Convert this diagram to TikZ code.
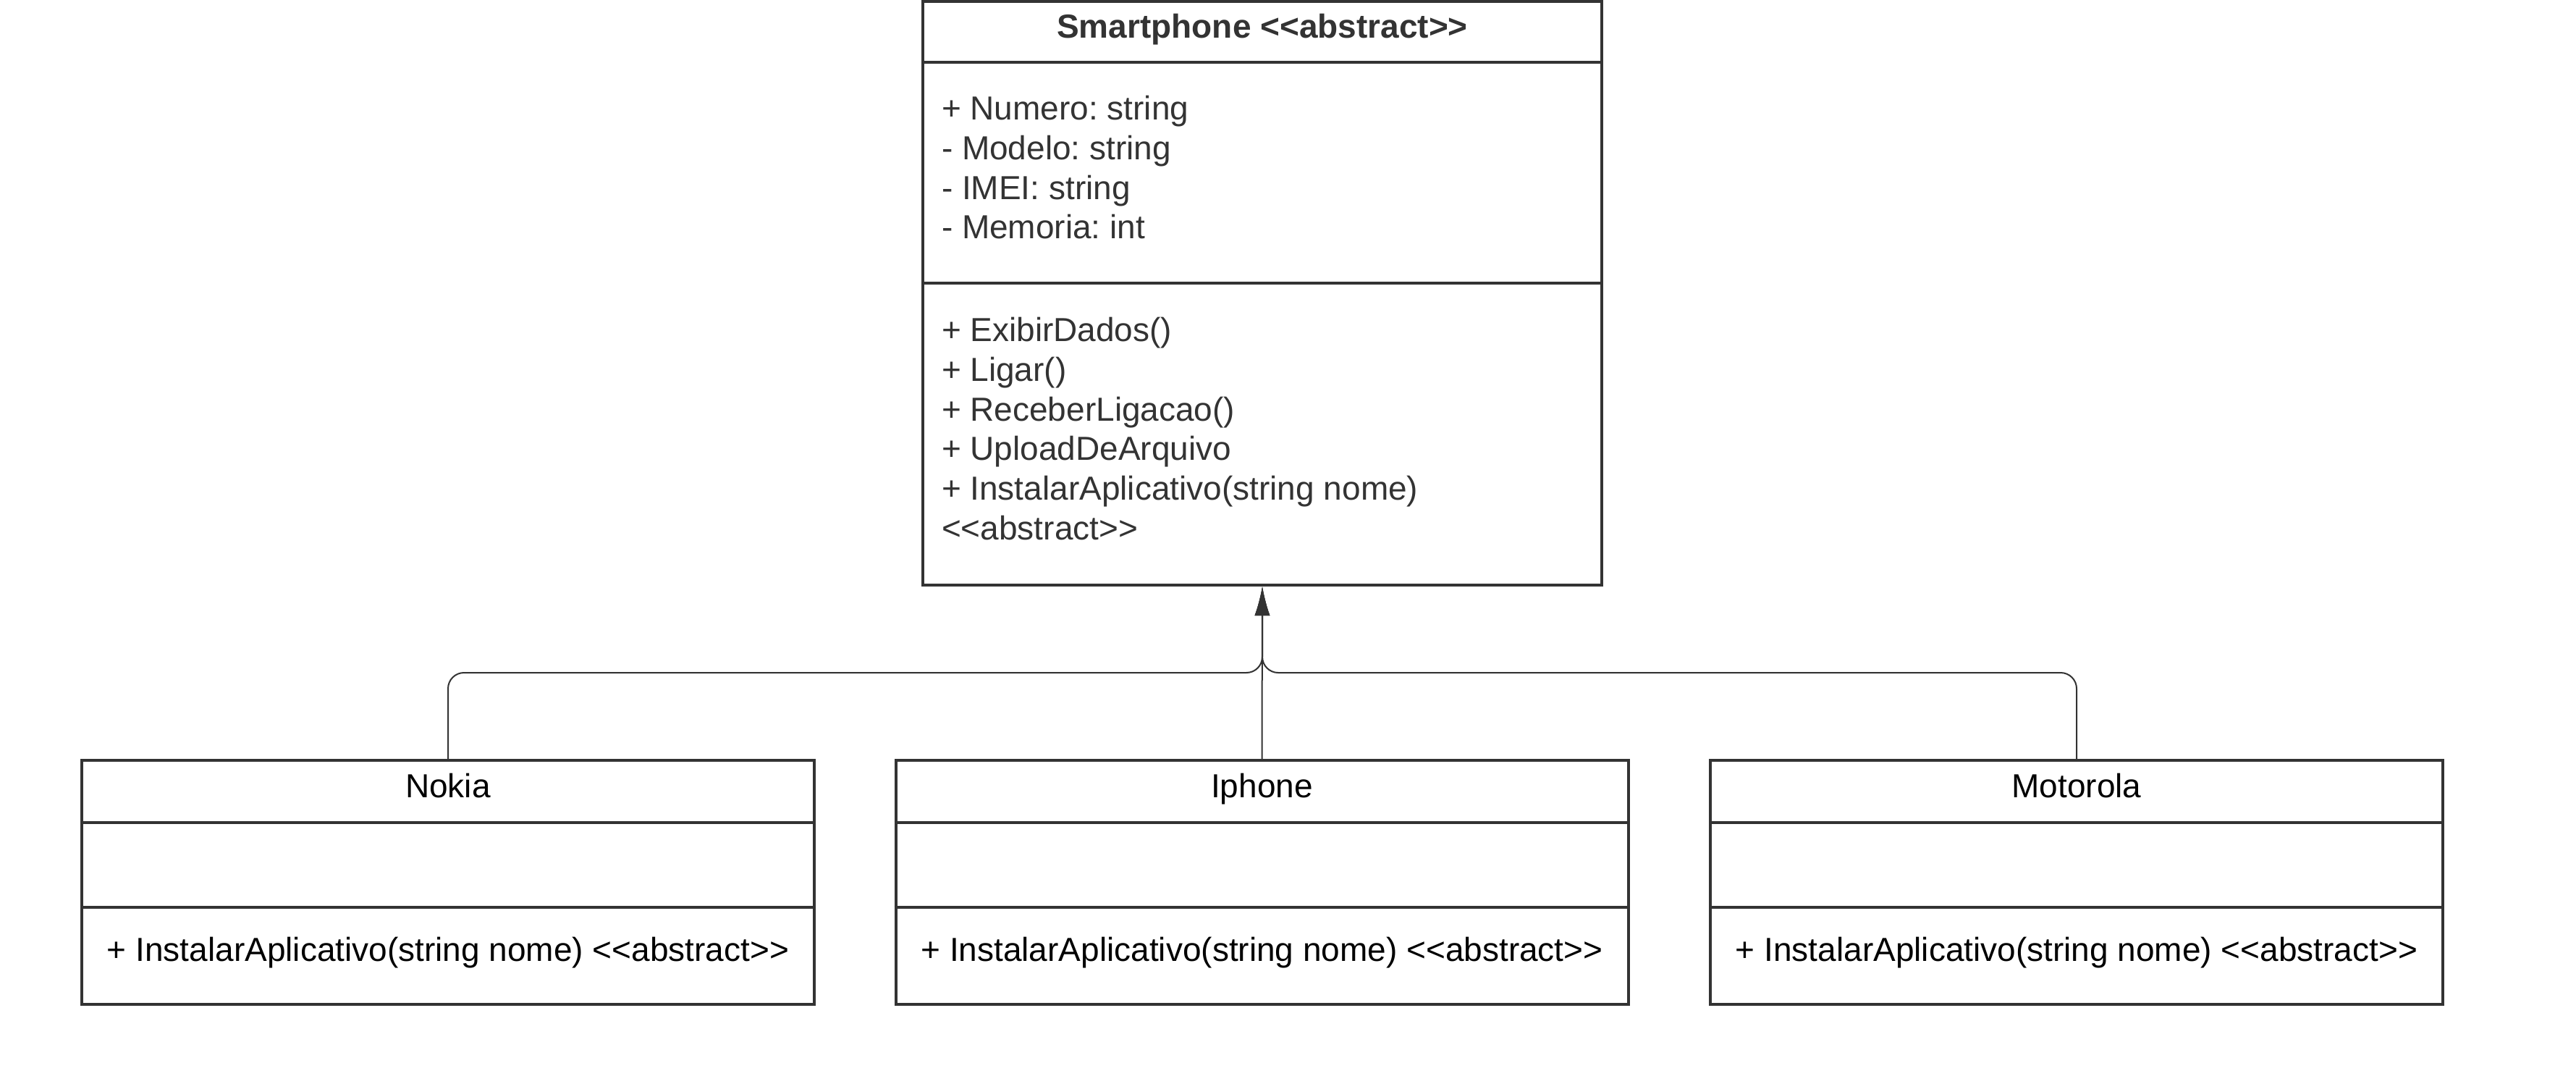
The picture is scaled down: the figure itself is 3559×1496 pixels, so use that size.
\documentclass[tikz,border=0pt]{standalone}
\usepackage{fontspec}
\setmainfont{Liberation Sans}
\usetikzlibrary{arrows.meta}
\definecolor{linegray}{RGB}{51,51,51}
\frenchspacing
\begin{document}
\begin{tikzpicture}[x=0.2pt,y=-0.2pt,
  classbox/.style={draw=linegray,line width=0.8pt,rectangle,inner sep=0pt,fill=white},
  sepline/.style={draw=linegray,line width=0.8pt},
  conn/.style={draw=linegray,line width=0.4pt,rounded corners=4.4pt,-{Latex[length=8pt,width=4.2pt]}},
  txt/.style={inner sep=0pt,font=\fontsize{9.2}{11}\selectfont},
  toptxt/.style={txt,text=linegray,anchor=base west},
  midtxt/.style={txt,text=black,anchor=base}]
\useasboundingbox (0,0) rectangle (3559,1496);
% Smartphone
\node[classbox,minimum width=187.6pt,minimum height=161.2pt] (sp) at (1744,405) {};
\draw[sepline] (sp.west |- 0,86) -- (sp.east |- 0,86);
\draw[sepline] (sp.west |- 0,391) -- (sp.east |- 0,391);
\node[txt,text=linegray,anchor=base,font=\fontsize{9.2}{11}\selectfont\bfseries] (spt) at (1744,52) {Smartphone <{}<abstract>{}>};
\node[toptxt] (a1) at (1300,165) {+ Numero: string};
\node[toptxt] (a2) at (1300,220) {- Modelo: string};
\node[toptxt] (a3) at (1300,275) {- IMEI: string};
\node[toptxt] (a4) at (1300,329) {- Memoria: int};
\node[toptxt] (m1) at (1300,471) {+ ExibirDados()};
\node[toptxt] (m2) at (1300,526) {+ Ligar()};
\node[toptxt] (m3) at (1300,581) {+ ReceberLigacao()};
\node[toptxt] (m4) at (1300,635) {+ UploadDeArquivo};
\node[toptxt] (m5) at (1300,690) {+ InstalarAplicativo(string nome)};
\node[toptxt] (m6) at (1300,745) {<{}<abstract>{}>};
% Subclasses
\foreach \n/\lab/\cx in {nok/Nokia/619, iph/Iphone/1743.5, mot/Motorola/2869}{
  \node[classbox,minimum width=202.4pt,minimum height=67.4pt] (\n) at (\cx,1218.5) {};
  \draw[sepline] (\n.west |- 0,1136) -- (\n.east |- 0,1136);
  \draw[sepline] (\n.west |- 0,1253) -- (\n.east |- 0,1253);
  \node[midtxt] (\n-t) at (\cx,1101) {\lab};
  \node[midtxt] (\n-m) at (\cx,1327) {+ InstalarAplicativo(string nome) <{}<abstract>{}>};
}
% Connectors
\coordinate (bus) at (1744,929);
\draw[conn] (nok.north) |- (bus) -- (sp.south);
\draw[conn] (mot.north) |- (bus) -- (sp.south);
\draw[conn] (iph.north) -- (sp.south);
\end{tikzpicture}
\end{document}
